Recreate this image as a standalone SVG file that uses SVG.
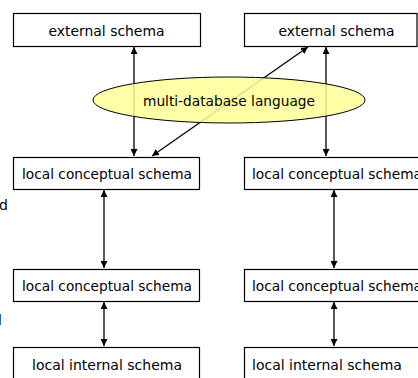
<svg xmlns="http://www.w3.org/2000/svg" width="418" height="378" viewBox="0 0 418 378">
<style>
.box{fill:#ffffff;stroke:#000000;stroke-width:1.2}
.lbl{font-family:"DejaVu Sans",Verdana,sans-serif;font-size:14px;fill:#000000}
.conn{stroke:#000000;stroke-width:1.3;fill:none;marker-start:url(#ah);marker-end:url(#ah)}
</style>
<defs>
<marker id="ah" viewBox="0 0 10 10" refX="10" refY="5" markerWidth="7" markerHeight="7" markerUnits="userSpaceOnUse" orient="auto-start-reverse">
<path d="M0,0 L10,5 L0,10 z" fill="#000000"/>
</marker>
</defs>
<rect width="418" height="378" fill="#ffffff"/>
<g id="connectors">
<line class="conn" x1="134" y1="47" x2="134" y2="156"/>
<line class="conn" x1="308" y1="47" x2="152" y2="156"/>
<line class="conn" x1="326" y1="47" x2="326" y2="156"/>
<line class="conn" x1="104" y1="190" x2="104" y2="268"/>
<line class="conn" x1="104" y1="302" x2="104" y2="346"/>
<line class="conn" x1="334" y1="190" x2="334" y2="268"/>
<line class="conn" x1="334" y1="302" x2="334" y2="346"/>
</g>
<g id="ext-left"><rect class="box" x="13.5" y="13.5" width="187" height="33"/><text class="lbl" x="106.5" y="36" text-anchor="middle" textLength="116" lengthAdjust="spacingAndGlyphs">external schema</text></g>
<g id="ext-right"><rect class="box" x="244.5" y="13.5" width="172.5" height="33"/><text class="lbl" x="336.5" y="36" text-anchor="middle" textLength="116" lengthAdjust="spacingAndGlyphs">external schema</text></g>
<g id="mdl"><ellipse cx="229" cy="100" rx="136" ry="23" fill="#ffff99" fill-opacity="0.85" stroke="#000000" stroke-width="1"/><text class="lbl" x="229" y="106" text-anchor="middle" textLength="172" lengthAdjust="spacingAndGlyphs">multi-database language</text></g>
<g id="lcs-left-1"><rect class="box" x="13.5" y="157.5" width="186" height="32"/><text class="lbl" x="107" y="179" text-anchor="middle" textLength="170" lengthAdjust="spacingAndGlyphs">local conceptual schema</text></g>
<g id="lcs-right-1"><rect class="box" x="244.5" y="157.5" width="186" height="32"/><text class="lbl" x="252" y="179" textLength="170" lengthAdjust="spacingAndGlyphs">local conceptual schema</text></g>
<g id="lcs-left-2"><rect class="box" x="13.5" y="269.5" width="186" height="32"/><text class="lbl" x="107" y="291" text-anchor="middle" textLength="170" lengthAdjust="spacingAndGlyphs">local conceptual schema</text></g>
<g id="lcs-right-2"><rect class="box" x="244.5" y="269.5" width="186" height="32"/><text class="lbl" x="252" y="291" textLength="170" lengthAdjust="spacingAndGlyphs">local conceptual schema</text></g>
<g id="lis-left"><rect class="box" x="13.5" y="347.5" width="186" height="33"/><text class="lbl" x="107" y="370" text-anchor="middle">local internal schema</text></g>
<g id="lis-right"><rect class="box" x="244.5" y="347.5" width="186" height="33"/><text class="lbl" x="252" y="370" x-offset="0">local internal schema</text></g>
<text class="lbl" x="-1" y="210">d</text>
<text class="lbl" x="-2" y="325">l</text>
</svg>
